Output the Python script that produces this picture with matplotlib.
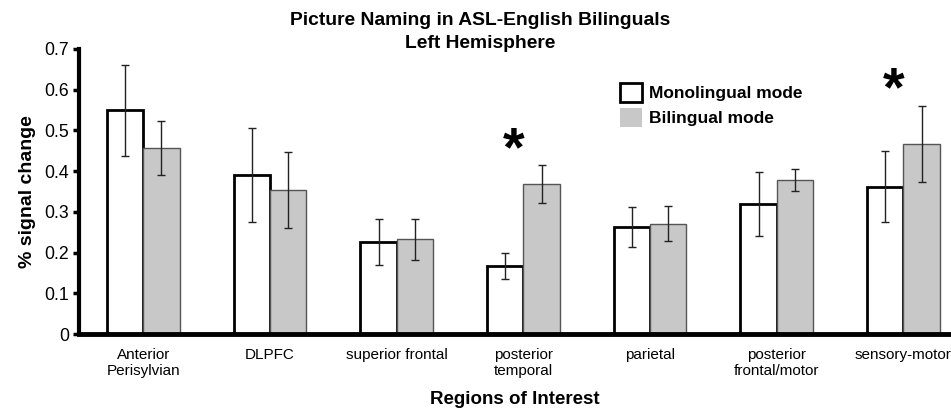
import matplotlib
matplotlib.use("Agg")
import matplotlib.pyplot as plt
from matplotlib.patches import Patch
from matplotlib.transforms import offset_copy
import numpy as np

plt.rcParams['font.family'] = ['Liberation Sans', 'DejaVu Sans']

categories = ["Anterior\nPerisylvian", "DLPFC", "superior frontal", "posterior\ntemporal",
              "parietal", "posterior\nfrontal/motor", "sensory-motor"]
mono = [0.549, 0.391, 0.226, 0.168, 0.262, 0.319, 0.362]
mono_err = [0.111, 0.116, 0.056, 0.032, 0.049, 0.078, 0.088]
bil = [0.457, 0.354, 0.233, 0.369, 0.271, 0.378, 0.467]
bil_err = [0.067, 0.093, 0.050, 0.047, 0.043, 0.027, 0.093]
star_idx = [3, 6]
star_y = [0.477, 0.622]
yticks = [0, 0.1, 0.2, 0.3, 0.4, 0.5, 0.6, 0.7]
ytick_labels = ["0", "0.1", "0.2", "0.3", "0.4", "0.5", "0.6", "0.7"]

fig = plt.figure(figsize=(9.51, 4.11), dpi=100)
ax = fig.add_axes([0.0831, 0.1873, 0.9169, 0.6935])

x = np.arange(len(categories))
w = 0.2866
ax.bar(x - w/2, mono, w, color='white', edgecolor='black', linewidth=2.0, zorder=2)
ax.bar(x + w/2, bil, w, color='#c8c8c8', edgecolor='#555555', linewidth=1.0, zorder=2)
ax.errorbar(x - w/2, mono, yerr=mono_err, fmt='none', ecolor='#222222', elinewidth=1.0,
            capsize=3, capthick=1.0, zorder=3)
ax.errorbar(x + w/2, bil, yerr=bil_err, fmt='none', ecolor='#222222', elinewidth=1.0,
            capsize=3, capthick=1.0, zorder=3)

star_tr = offset_copy(ax.transData, fig=fig, x=-10, y=-11, units='dots')
for i, yy in zip(star_idx, star_y):
    ax.text(i, yy, "*", ha='center', va='center', fontsize=40, fontweight='bold',
            transform=star_tr)

ax.set_xlim(-0.5075, 6.375)
ax.set_ylim(0, 0.7)
ax.set_yticks(yticks)
ax.set_yticklabels(ytick_labels, fontsize=12.7)
ax.set_xticks(x)
ax.set_xticklabels(categories, fontsize=11, linespacing=1.2)
ax.tick_params(axis='x', length=0, pad=10)
ax.tick_params(axis='y', length=4, width=2.5, pad=3, direction='out')
for s in ['top', 'right']:
    ax.spines[s].set_visible(False)
ax.spines['left'].set_linewidth(3)
ax.spines['bottom'].set_linewidth(3.5)
ax.spines['left'].set_zorder(4)
ax.spines['bottom'].set_zorder(4)

ax.set_ylabel("% signal change", fontsize=14, fontweight='bold', labelpad=6)
ax.set_xlabel("Regions of Interest", fontsize=13.5, fontweight='bold', labelpad=9)

fig.text(0.505, 0.95, "Picture Naming in ASL-English Bilinguals", ha='center', va='center',
         fontsize=13.9, fontweight='bold')
fig.text(0.505, 0.893, "Left Hemisphere", ha='center', va='center',
         fontsize=13.9, fontweight='bold')

handles = [Patch(facecolor='white', edgecolor='black', linewidth=2),
           Patch(facecolor='#c8c8c8', edgecolor='none')]
leg = ax.legend(handles, ["Monolingual mode", "Bilingual mode"], loc='upper left',
                bbox_to_anchor=(0.603, 0.935), frameon=False,
                prop={'weight': 'bold', 'size': 12.5},
                handlelength=1.25, handleheight=1.25, handletextpad=0.4, labelspacing=0.4)

fig.savefig("out.png", dpi=100)
